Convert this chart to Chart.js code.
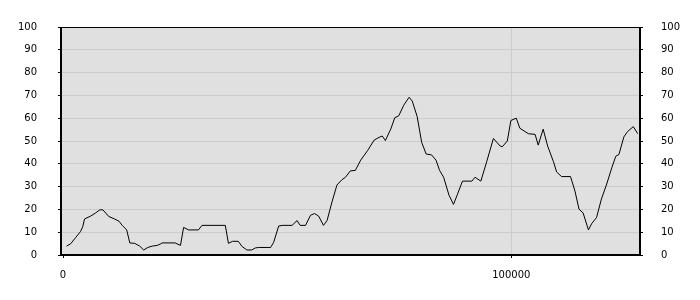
<!DOCTYPE html>
<html>
<head>
<meta charset="utf-8">
<script src="https://cdn.jsdelivr.net/npm/chart.js@4/dist/chart.umd.min.js"></script>
<style>
  html, body { margin: 0; padding: 0; background: #fff; }
  #wrap { width: 700px; height: 300px; }
</style>
</head>
<body>
<div id="wrap"><canvas id="chart" width="700" height="300"></canvas></div>
<script>
// ======================================
// Data
// ======================================

const xValues = [
  800, 1700, 2800, 3900, 4400, 4800, 6200, 7300, 8200, 8900,
  10200, 11500, 12500, 13200, 14200, 14900, 16000, 17100, 18000, 18900,
  19900, 21000, 21800, 22100, 25000, 26200, 26900, 28000, 30200, 31000,
  36200, 36900, 37800, 39100, 39900, 41000, 42100, 42900, 43600, 46300,
  47000, 48100, 48900, 51100, 52200, 52900, 54100, 55200, 56100, 57000,
  58100, 58900, 60000, 61100, 62200, 63000, 64100, 65200, 66400, 67900,
  69400, 70500, 71200, 71900, 73100, 74000, 74900, 76000, 77200, 77900,
  79000, 80000, 81000, 82200, 83200, 84000, 84900, 86100, 87100, 88000,
  89100, 91200, 91900, 93200, 94500, 96000, 97500, 98000, 99100, 99900,
  101100, 101900, 103800, 105300, 106000, 107100, 108100, 109400, 110100, 111200,
  113200, 114200, 115100, 116000, 117200, 117900, 119000, 120100, 121200, 122400,
  123300, 124000, 125100, 125900, 127200, 128200
];

const yValues = [
  3.9, 4.9, 7.6, 10.3, 12.4, 15.8, 17.1, 18.5, 19.8, 19.8,
  16.9, 15.8, 14.8, 13, 11, 5.3, 5.1, 3.9, 2.2, 3.3,
  3.9, 4.2, 4.9, 5.3, 5.3, 4.2, 12.1, 11, 11, 13,
  13, 5.1, 6, 6, 3.8, 2.2, 2.2, 3.1, 3.3, 3.3,
  5.6, 12.7, 13, 13, 15.1, 13, 13, 17.4, 18.2, 17.1,
  13, 15.1, 23.3, 30.7, 33, 34.1, 36.9, 37.1, 41.6, 45.7,
  50.4, 51.6, 52.2, 50.2, 55.2, 60.2, 61.1, 65.7, 69.2, 67.5,
  60.7, 49.4, 44.3, 43.9, 41.6, 37.1, 34.1, 26.2, 22.2, 26.7,
  32.4, 32.4, 34.1, 32.4, 40.9, 51.1, 47.8, 47.5, 50, 59,
  60, 55.6, 53.2, 52.9, 48.2, 55.2, 47.8, 40.9, 36.4, 34.4,
  34.4, 28, 20.1, 18.5, 11, 13.7, 16.4, 24.6, 30.7, 38.2,
  43.3, 44.1, 51.8, 54.1, 56.3, 53.2
];

const yTicks = [0, 10, 20, 30, 40, 50, 60, 70, 80, 90, 100];
const xTicks = [0, 100000];

// ======================================
// Chart
// ======================================

Chart.defaults.font.family = "'DejaVu Sans', sans-serif";
Chart.defaults.font.size = 10;
Chart.defaults.color = "#000";

const points = xValues.map((x, i) => ({ x: x, y: yValues[i] }));

const plotFrame = {
  id: "plotFrame",
  beforeDraw(chart) {
    const { ctx, chartArea: a } = chart;
    ctx.save();
    ctx.fillStyle = "#e0e0e0";
    ctx.fillRect(a.left, a.top, a.right - a.left, a.bottom - a.top);
    ctx.restore();
  },
  afterDraw(chart) {
    const { ctx, chartArea: a } = chart;
    ctx.save();
    ctx.strokeStyle = "#000";
    ctx.lineWidth = 1;
    ctx.strokeRect(Math.round(a.left) - 0.5, Math.round(a.top) + 0.5,
      Math.round(a.right - a.left), Math.round(a.bottom - a.top) - 1);
    ctx.restore();
  },
};

const yAxis = (position, width, padding) => ({
  type: "linear",
  position: position,
  min: 0,
  max: 100,
  afterBuildTicks(scale) {
    scale.ticks = yTicks.map((v) => ({ value: v }));
  },
  afterFit(scale) {
    scale.width = width;
  },
  ticks: { padding: padding, callback: (v) => String(v) },
  border: { color: "#000" },
  grid: {
    color: "#cccccc",
    tickColor: "#000",
    tickLength: 3,
    drawOnChartArea: position === "left",
  },
});

new Chart(document.getElementById("chart"), {
  type: "line",
  data: {
    datasets: [
      {
        data: points,
        borderColor: "#000",
        borderWidth: 1,
        pointRadius: 0,
        tension: 0,
        fill: false,
      },
    ],
  },
  options: {
    responsive: false,
    animation: false,
    layout: { padding: { top: 10, left: 0, right: 0, bottom: 0 } },
    plugins: {
      legend: { display: false },
      tooltip: { enabled: false },
    },
    scales: {
      x: {
        type: "linear",
        min: -450,
        max: 128700,
        afterBuildTicks(scale) {
          scale.ticks = xTicks.map((v) => ({ value: v }));
        },
        afterFit(scale) {
          scale.height = 45;
        },
        ticks: { padding: 11, maxRotation: 0, callback: (v) => String(v) },
        border: { color: "#000" },
        grid: {
          color: (ctx) => (ctx.tick && ctx.tick.value === 0 ? "rgba(0,0,0,0)" : "#cccccc"),
          tickColor: "#000",
          tickLength: 3,
        },
      },
      y: yAxis("left", 61, 21),
      y2: yAxis("right", 60, 18),
    },
  },
  plugins: [plotFrame],
});
</script>
</body>
</html>
